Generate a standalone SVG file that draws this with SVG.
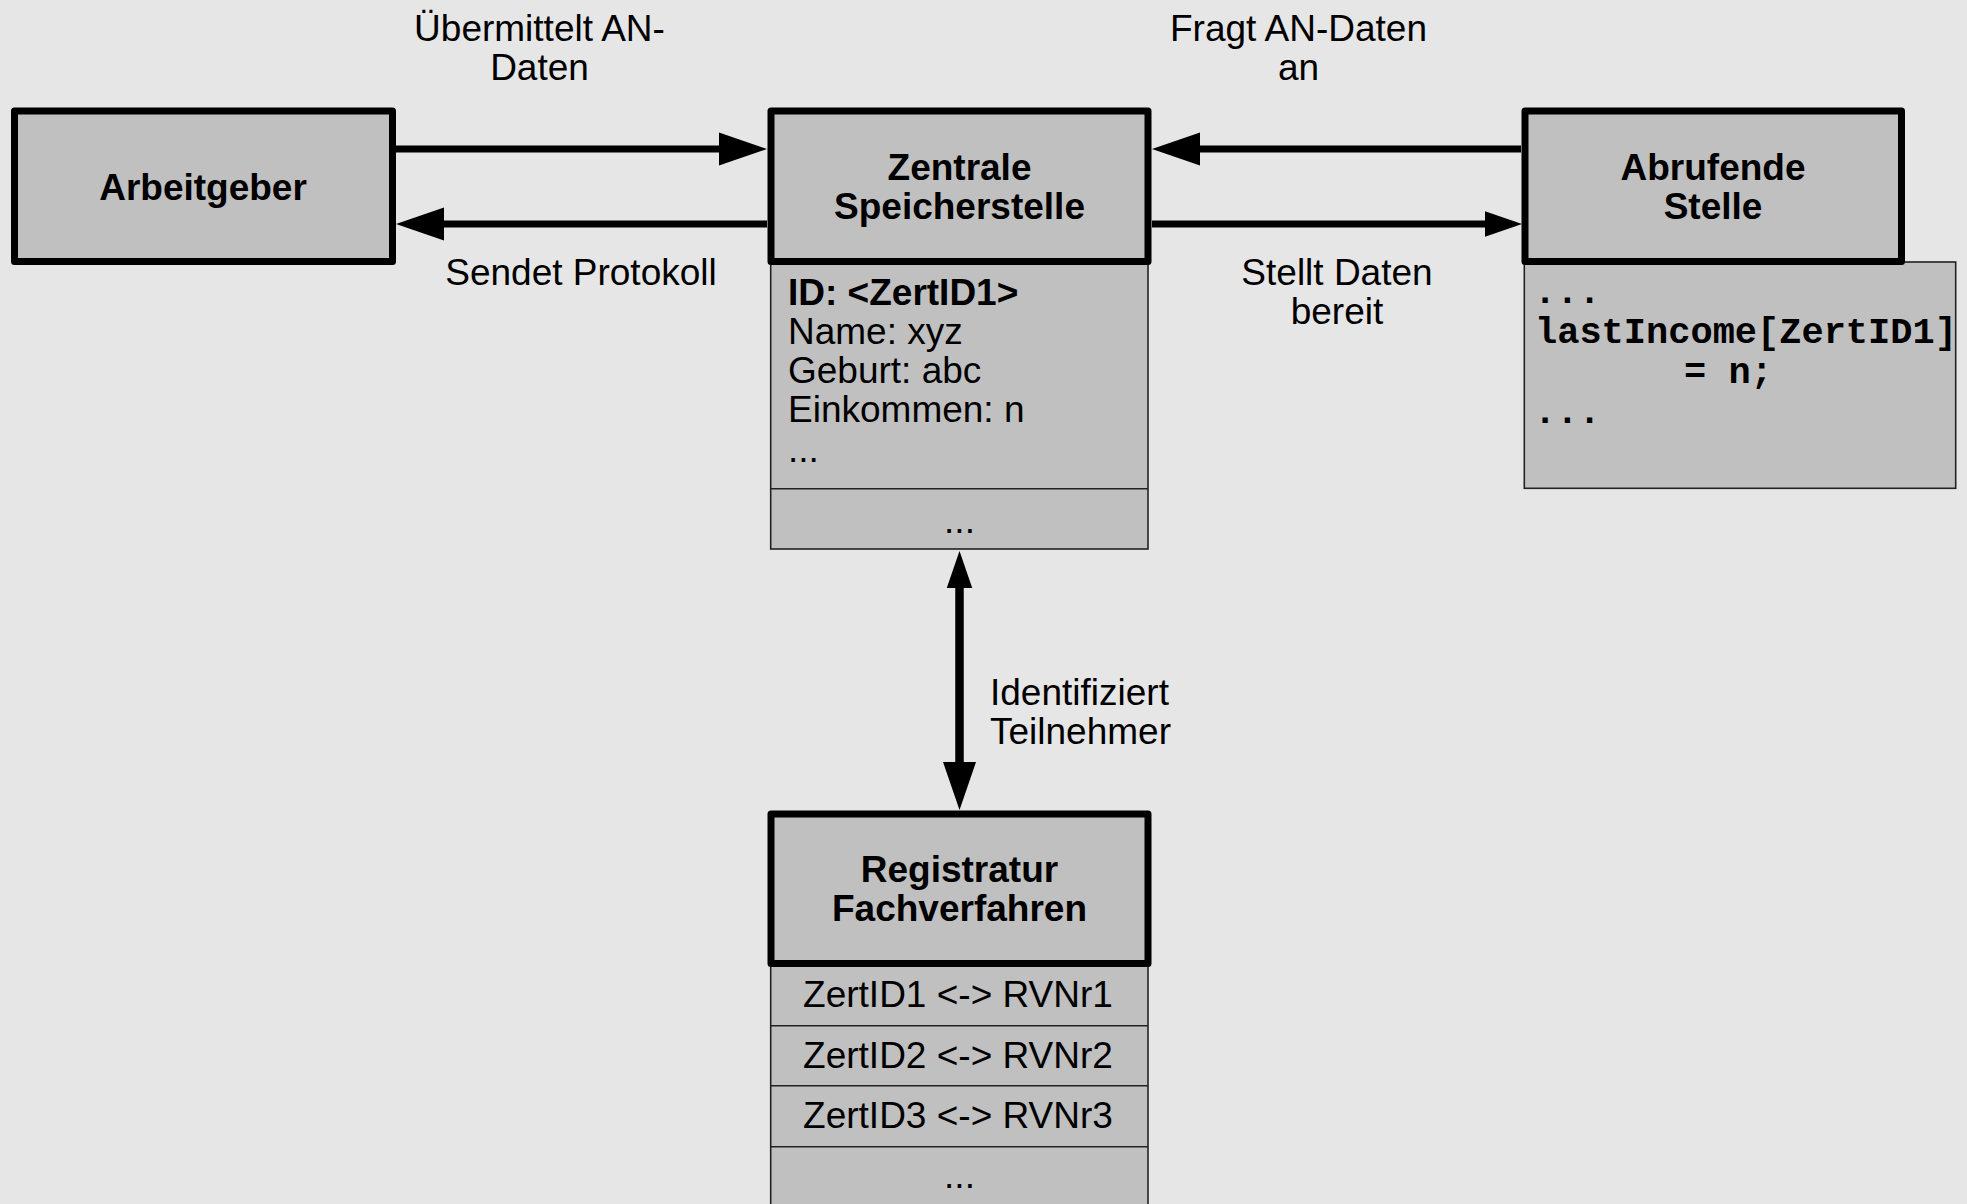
<svg xmlns="http://www.w3.org/2000/svg" width="1967" height="1204" viewBox="0 0 1967 1204">
  <defs>
    <style>
      .hdr { fill: #c0c0c0; stroke: #000; stroke-width: 7; stroke-linejoin: round; }
      .body { fill: #c0c0c0; stroke: #222; stroke-width: 1.6; }
      .div { stroke: #222; stroke-width: 1.6; }
      .t { font-family: "Liberation Sans", Arial, Helvetica, sans-serif; font-size: 37px; fill: #000; }
      .b { font-weight: bold; }
      .c { text-anchor: middle; }
      .code { font-family: "Liberation Mono", "Courier New", monospace; font-size: 37px; font-weight: bold; fill: #000; }
      .wire { fill: none; stroke: #000; stroke-width: 7; }
      .wire.v { stroke-width: 8.5; }
    </style>
    <!-- large and small filled arrowheads; base sits at the line end -->
    <marker id="ah" markerUnits="userSpaceOnUse" markerWidth="50" markerHeight="34" refX="1" refY="16.5" orient="auto-start-reverse" overflow="visible">
      <path d="M0,0 L48,16.5 L0,33 Z" fill="#000"/>
    </marker>
    <marker id="ahs" markerUnits="userSpaceOnUse" markerWidth="38" markerHeight="26" refX="1" refY="12.75" orient="auto-start-reverse" overflow="visible">
      <path d="M0,0 L37,12.75 L0,25.5 Z" fill="#000"/>
    </marker>
  </defs>

  <rect width="1967" height="1204" fill="#e6e6e6"/>

  <!-- connectors -->
  <g id="connectors">
    <line class="wire" x1="396" y1="149" x2="720" y2="149" marker-end="url(#ah)"/>
    <line class="wire" x1="767" y1="224" x2="443" y2="224" marker-end="url(#ah)"/>
    <line class="wire" x1="1521" y1="149" x2="1199" y2="149" marker-end="url(#ah)"/>
    <line class="wire" x1="1152" y1="224" x2="1486" y2="224" marker-end="url(#ahs)"/>
    <line class="wire v" x1="959.5" y1="587" x2="959.5" y2="763" marker-start="url(#ahs)" marker-end="url(#ah)"/>

    <text class="t c" x="539.5" y="40.7">Übermittelt AN-</text>
    <text class="t c" x="539.5" y="80">Daten</text>
    <text class="t c" x="581" y="285">Sendet Protokoll</text>
    <text class="t c" x="1298.5" y="40.7">Fragt AN-Daten</text>
    <text class="t c" x="1298.5" y="80">an</text>
    <text class="t c" x="1337" y="285">Stellt Daten</text>
    <text class="t c" x="1337" y="324">bereit</text>
    <text class="t" x="990" y="705">Identifiziert</text>
    <text class="t" x="990" y="744">Teilnehmer</text>
  </g>

  <!-- employer -->
  <g id="arbeitgeber">
    <rect class="hdr" x="14.5" y="111" width="378" height="150.5"/>
    <text class="t b c" x="203" y="200">Arbeitgeber</text>
  </g>

  <!-- central store with record compartments -->
  <g id="zentrale-speicherstelle">
    <rect class="body" x="770.7" y="262" width="377.3" height="287"/>
    <line class="div" x1="770.7" y1="488.7" x2="1148" y2="488.7"/>
    <rect class="hdr" x="771" y="111" width="377" height="150.5"/>
    <text class="t b c" x="959.5" y="180">Zentrale</text>
    <text class="t b c" x="959.5" y="219">Speicherstelle</text>
    <text class="t b" x="788" y="305">ID: &lt;ZertID1&gt;</text>
    <text class="t" x="788" y="344">Name: xyz</text>
    <text class="t" x="788" y="383">Geburt: abc</text>
    <text class="t" x="788" y="422">Einkommen: n</text>
    <text class="t" x="788" y="461.5">...</text>
    <text class="t c" x="959.5" y="533">...</text>
  </g>

  <!-- querying party with code snippet -->
  <g id="abrufende-stelle">
    <rect class="body" x="1524.3" y="262" width="431.4" height="226.3"/>
    <rect class="hdr" x="1525" y="111" width="376.5" height="150.5"/>
    <text class="t b c" x="1713" y="180">Abrufende</text>
    <text class="t b c" x="1713" y="218.5">Stelle</text>
    <text class="code" x="1534" y="303.3">...</text>
    <text class="code" x="1535" y="343.3">lastIncome[ZertID1]</text>
    <text class="code" x="1684" y="383.3">= n;</text>
    <text class="code" x="1534" y="423.3">...</text>
  </g>

  <!-- registry with mapping rows -->
  <g id="registratur-fachverfahren">
    <rect class="body" x="770.7" y="963" width="377.3" height="260"/>
    <line class="div" x1="770.7" y1="1025.7" x2="1148" y2="1025.7"/>
    <line class="div" x1="770.7" y1="1085.7" x2="1148" y2="1085.7"/>
    <line class="div" x1="770.7" y1="1146.7" x2="1148" y2="1146.7"/>
    <rect class="hdr" x="771" y="814" width="377" height="149.5"/>
    <text class="t b c" x="959.5" y="881.5">Registratur</text>
    <text class="t b c" x="959.5" y="921">Fachverfahren</text>
    <text class="t c" x="958" y="1007.3">ZertID1 &lt;-&gt; RVNr1</text>
    <text class="t c" x="958" y="1067.7">ZertID2 &lt;-&gt; RVNr2</text>
    <text class="t c" x="958" y="1128.3">ZertID3 &lt;-&gt; RVNr3</text>
    <text class="t c" x="959.5" y="1188.3">...</text>
  </g>
</svg>
